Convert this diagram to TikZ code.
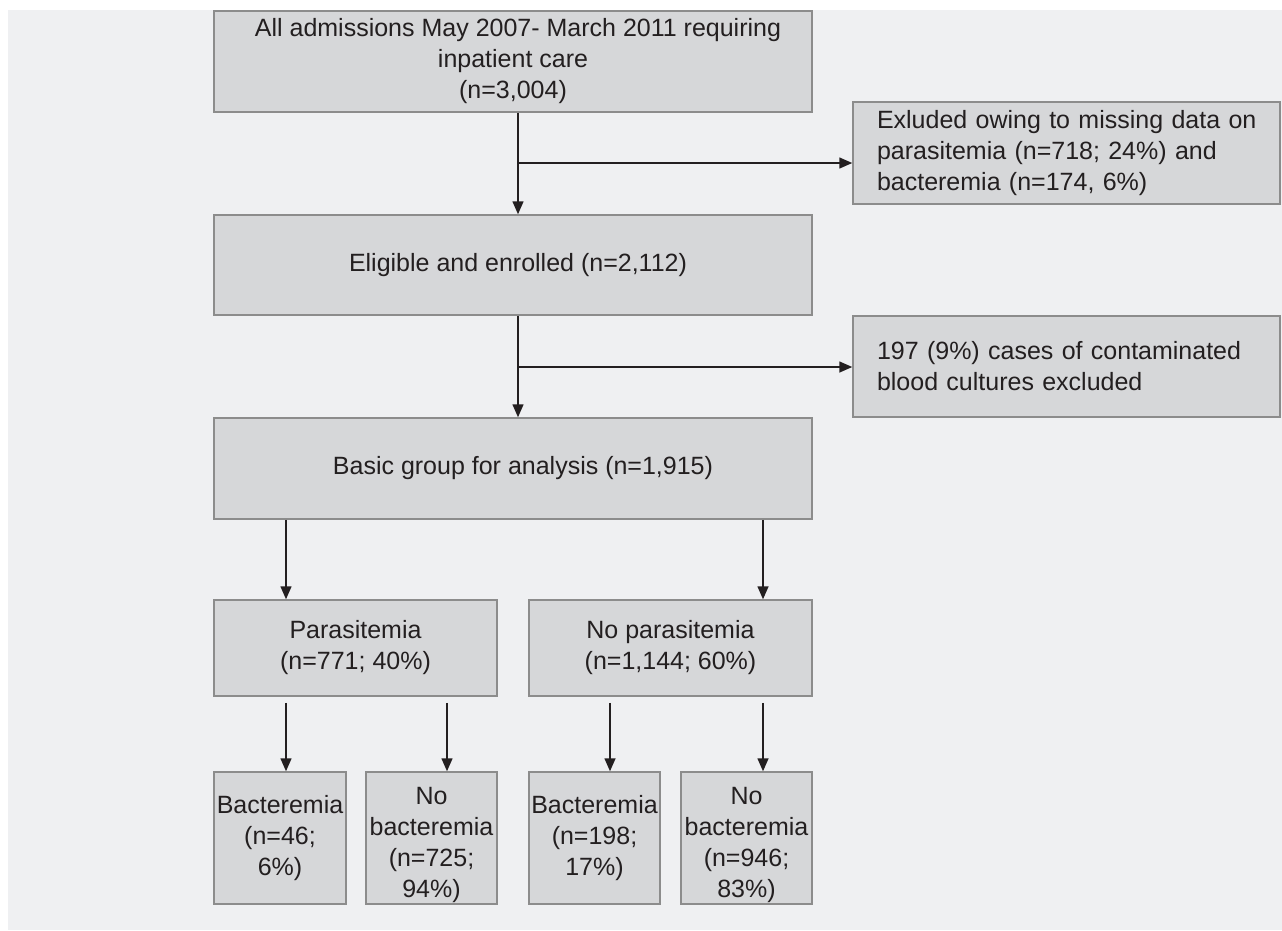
\documentclass[tikz,border=0pt]{standalone}
\usepackage{fontspec}
\setmainfont{Liberation Sans}
\usetikzlibrary{arrows.meta}
\definecolor{bgcol}{HTML}{EFF0F2}
\definecolor{boxfill}{HTML}{D6D7D9}
\definecolor{boxline}{HTML}{8C8C8C}
\definecolor{inkcol}{HTML}{231F20}
\newcommand{\ind}{\hspace*{24pt}}
\tikzset{
  box/.style={draw=boxline, fill=boxfill, line width=1.5pt, align=center,
    inner sep=0pt, text=inkcol, font=\fontsize{25}{31}\selectfont},
  sidebox/.style={box, align=left, text width=427pt, minimum height=101pt},
  flow/.style={-{Triangle[length=13pt,width=11pt]}, line width=1.5pt, draw=inkcol}
}
\begin{document}
\begin{tikzpicture}[x=1pt, y=-1pt]
\fill[white] (0,0) rectangle (1282,930);
\fill[bgcol] (8,10) rectangle (1282,930);
\useasboundingbox (0,0) rectangle (1282,930);

% main column
\node [box, minimum width=598pt, minimum height=101pt] (all) at (513,61.5)
  {\hspace*{10pt}All admissions May 2007- March 2011 requiring\\inpatient care\\(n=3,004)};
\node [box, minimum width=598pt, minimum height=100pt] (enrol) at (513,265)
  {\hspace*{10pt}Eligible and enrolled (n=2,112)};
\node [box, minimum width=598pt, minimum height=101pt] (basic) at (513,468.5)
  {\hspace*{20pt}Basic group for analysis (n=1,915)};

% exclusions
\node [sidebox, minimum height=102pt] (excl1) at (1066.5,153)
  {\ind Exluded owing to missing data on\\\ind parasitemia (n=718; 24\%) and\\\ind bacteremia (n=174, 6\%)};
\node [sidebox] (excl2) at (1066.5,366.5)
  {\ind 197 (9\%) cases of contaminated\\\ind blood cultures excluded};

% parasitemia split
\node [box, minimum width=283pt, minimum height=96pt] (para) at (355.5,648)
  {Parasitemia\\(n=771; 40\%)};
\node [box, minimum width=283pt, minimum height=96pt] (nopara) at (670.5,648)
  {No parasitemia\\(n=1,144; 60\%)};

% bacteremia split
\node [box, minimum width=132pt, minimum height=132pt] (bac1) at (280,838)
  {Bacteremia\\(n=46;\\6\%)};
\node [box, minimum width=131pt, minimum height=132pt] (nobac1) at (431.5,838)
  {\rule{0pt}{32pt}No\\bacteremia\\(n=725;\\94\%)};
\node [box, minimum width=131pt, minimum height=132pt] (bac2) at (594.5,838)
  {Bacteremia\\(n=198;\\17\%)};
\node [box, minimum width=131pt, minimum height=132pt] (nobac2) at (746.5,838)
  {\rule{0pt}{32pt}No\\bacteremia\\(n=946;\\83\%)};

\coordinate (j1) at (518,163);
\coordinate (j2) at (518,367);
\draw [flow] (all.south -| j1) -- (enrol.north -| j1);
\draw [flow] (j1) -- (j1 -| excl1.west);
\draw [flow] (enrol.south -| j2) -- (basic.north -| j2);
\draw [flow] (j2) -- (j2 -| excl2.west);
\draw [flow] (basic.south -| 286,0) -- (para.north -| 286,0);
\draw [flow] (basic.south -| 763,0) -- (nopara.north -| 763,0);
\draw [flow, shorten <=6pt] (para.south -| 286,0) -- (bac1.north -| 286,0);
\draw [flow, shorten <=6pt] (para.south -| 447,0) -- (nobac1.north -| 447,0);
\draw [flow, shorten <=6pt] (nopara.south -| 610,0) -- (bac2.north -| 610,0);
\draw [flow, shorten <=6pt] (nopara.south -| 763,0) -- (nobac2.north -| 763,0);
\end{tikzpicture}
\end{document}
